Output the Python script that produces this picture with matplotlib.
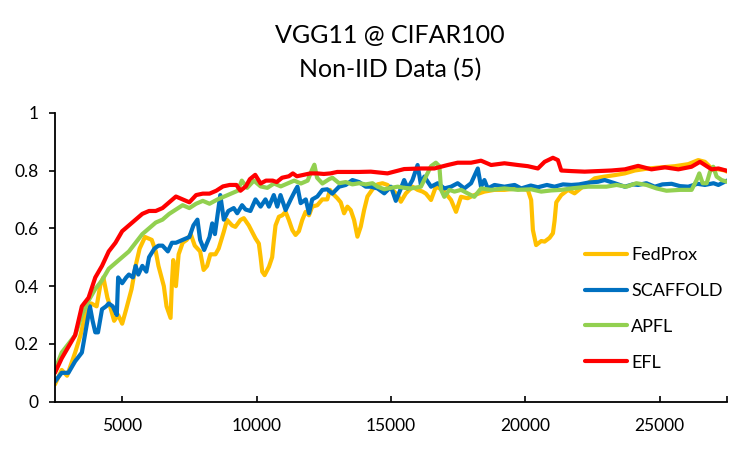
import matplotlib
matplotlib.use("Agg")
import matplotlib.pyplot as plt

plt.rcParams['font.family'] = ['Lato', 'DejaVu Sans']

title_lines = ["VGG11 @ CIFAR100", "Non-IID Data (5)"]
series_names = ["FedProx", "SCAFFOLD", "APFL", "EFL"]
series_colors = ["#FFC000", "#0070C0", "#92D050", "#FF0000"]

fedprox_x = [2500, 2750, 2950, 3100, 3250, 3450, 3600, 3850, 4050, 4200, 4300, 4450, 4550, 4700, 4850, 5000,
             5150, 5350, 5500, 5650, 5850, 6100, 6250, 6350, 6550, 6650, 6800, 6850, 6900, 7000, 7100, 7250,
             7400, 7550, 7700, 7900, 8030, 8160, 8280, 8470, 8590, 8780, 8900, 9090, 9210, 9400, 9525, 9710,
             9960, 10085, 10150, 10210, 10300, 10460, 10580, 10645, 10705, 10830, 10955, 11080, 11200, 11330,
             11450, 11575, 11700, 11825, 11950, 12070, 12260, 12445, 12630, 12730, 12820, 13006, 13130, 13255,
             13380, 13503, 13627, 13752, 13876, 14000, 14125, 14311, 14500, 14685, 14870, 15057, 15250, 15368,
             15554, 15800, 15990, 16175, 16300, 16490, 16670, 16930, 17235, 17420, 17605, 17855, 18100, 18475,
             18850, 19220, 19720, 20090, 20215, 20280, 20400, 20590, 20715, 20900, 21025, 21085, 21150, 21335,
             21585, 21830, 22080, 22330, 22580, 22950, 23325, 23700, 24070, 24565, 25065, 25565, 26060, 26430,
             26680, 26930, 27180, 27430, 27500]
fedprox_y = [0.06, 0.11, 0.09, 0.13, 0.17, 0.23, 0.29, 0.34, 0.33, 0.41, 0.43, 0.36, 0.33, 0.28, 0.30, 0.27,
             0.32, 0.39, 0.47, 0.53, 0.57, 0.56, 0.52, 0.47, 0.40, 0.33, 0.29, 0.41, 0.49, 0.40, 0.51, 0.55,
             0.56, 0.58, 0.54, 0.52, 0.456, 0.47, 0.51, 0.51, 0.53, 0.588, 0.629, 0.61, 0.605, 0.629, 0.635, 0.61,
             0.565, 0.547, 0.50, 0.45, 0.438, 0.467, 0.50, 0.56, 0.61, 0.64, 0.645, 0.657, 0.629, 0.594,
             0.577, 0.59, 0.629, 0.657, 0.645, 0.675, 0.68, 0.70, 0.70, 0.733, 0.721, 0.704, 0.69, 0.652,
             0.675, 0.663, 0.629, 0.571, 0.606, 0.663, 0.71, 0.735, 0.752, 0.756, 0.75, 0.733, 0.715, 0.692,
             0.721, 0.744, 0.733, 0.727, 0.72, 0.698, 0.744, 0.733, 0.698, 0.657, 0.709, 0.704, 0.715, 0.727,
             0.733, 0.733, 0.738, 0.733, 0.698, 0.594, 0.542, 0.556, 0.554, 0.567, 0.583, 0.625, 0.69, 0.715,
             0.733, 0.721, 0.74, 0.756, 0.773, 0.779, 0.784, 0.79, 0.80, 0.807, 0.811, 0.815, 0.822, 0.836,
             0.83, 0.807, 0.804, 0.80, 0.796]

scaffold_x = [2500, 2750, 3000, 3250, 3500, 3650, 3800, 3900, 4000, 4100, 4250, 4400, 4500, 4650, 4750, 4800,
              4850, 5000, 5150, 5250, 5400, 5500, 5600, 5750, 5900, 6000, 6200, 6350, 6500, 6700, 6850, 7000,
              7250, 7500, 7650, 7800, 7900, 8050, 8250, 8350, 8450, 8650, 8780, 8950, 9150, 9280, 9460, 9590,
              9770, 9960, 10150, 10330, 10460, 10640, 10770, 10890, 11080, 11270, 11450, 11520, 11640, 11830,
              11950, 12070, 12260, 12450, 12630, 12820, 13070, 13317, 13565, 13814, 14063, 14250, 14500, 14750,
              15000, 15180, 15370, 15490, 15620, 15800, 15990, 16115, 16240, 16490, 16740, 16985, 17235, 17480,
              17730, 17980, 18230, 18350, 18475, 18600, 18850, 19220, 19600, 19845, 20200, 20465, 20800, 21085,
              21400, 21710, 22000, 22330, 22700, 22950, 23325, 23700, 24000, 24195, 24500, 24815, 25100, 25440,
              25750, 26060, 26400, 26680, 27000, 27180, 27500]
scaffold_y = [0.07, 0.10, 0.10, 0.14, 0.17, 0.25, 0.33, 0.28, 0.24, 0.24, 0.32, 0.33, 0.34, 0.33, 0.31, 0.30,
              0.43, 0.41, 0.43, 0.44, 0.43, 0.47, 0.44, 0.47, 0.45, 0.50, 0.53, 0.54, 0.54, 0.52, 0.55, 0.55,
              0.56, 0.57, 0.61, 0.63, 0.56, 0.525, 0.57, 0.617, 0.58, 0.715, 0.63, 0.66, 0.67, 0.652, 0.68, 0.665,
              0.66, 0.70, 0.675, 0.70, 0.675, 0.715, 0.675, 0.715, 0.663, 0.70, 0.733, 0.744, 0.687, 0.70,
              0.652, 0.70, 0.71, 0.733, 0.735, 0.72, 0.744, 0.75, 0.767, 0.76, 0.744, 0.744, 0.738, 0.721,
              0.744, 0.695, 0.738, 0.767, 0.738, 0.767, 0.819, 0.75, 0.779, 0.744, 0.756, 0.738, 0.744, 0.756,
              0.738, 0.756, 0.807, 0.744, 0.767, 0.738, 0.75, 0.744, 0.75, 0.738, 0.748, 0.742, 0.75, 0.744,
              0.752, 0.75, 0.752, 0.758, 0.761, 0.767, 0.756, 0.744, 0.752, 0.75, 0.756, 0.744, 0.752, 0.754,
              0.746, 0.744, 0.754, 0.75, 0.756, 0.75, 0.765]

apfl_x = [2500, 2750, 3000, 3250, 3500, 3750, 4000, 4250, 4500, 4750, 5000, 5250, 5500, 5750, 6000, 6250,
          6500, 6750, 7000, 7250, 7500, 7750, 8000, 8250, 8550, 8800, 9050, 9300, 9450, 9650, 9900, 10150,
          10400, 10650, 10900, 11150, 11400, 11650, 11900, 12050, 12150, 12250, 12450, 12700, 12820, 13070,
          13317, 13565, 13814, 14063, 14311, 14500, 14750, 15000, 15250, 15500, 15750, 16115, 16300, 16490,
          16670, 16800, 16865, 16985, 17170, 17360, 17610, 17850, 18100, 18350, 18725, 19220, 19720, 20215,
          20590, 20960, 21335, 21710, 22330, 22640, 23015, 23390, 23760, 24130, 24510, 24880, 25250, 25750,
          26185, 26370, 26470, 26595, 26745, 26870, 26990, 27115, 27300, 27500]
apfl_y = [0.11, 0.17, 0.20, 0.23, 0.30, 0.35, 0.39, 0.42, 0.46, 0.48, 0.50, 0.52, 0.55, 0.58, 0.60, 0.62,
          0.63, 0.65, 0.665, 0.68, 0.67, 0.685, 0.695, 0.685, 0.70, 0.71, 0.72, 0.73, 0.765, 0.74, 0.765, 0.745,
          0.74, 0.755, 0.745, 0.755, 0.765, 0.755, 0.765, 0.80, 0.82, 0.775, 0.755, 0.77, 0.775, 0.756,
          0.76, 0.752, 0.756, 0.752, 0.756, 0.744, 0.735, 0.74, 0.744, 0.74, 0.738, 0.744, 0.779, 0.815,
          0.827, 0.815, 0.733, 0.709, 0.733, 0.727, 0.733, 0.721, 0.709, 0.738, 0.733, 0.738, 0.733, 0.735,
          0.727, 0.731, 0.733, 0.738, 0.744, 0.744, 0.744, 0.75, 0.744, 0.756, 0.75, 0.738, 0.73, 0.733,
          0.733, 0.767, 0.79, 0.756, 0.756, 0.796, 0.813, 0.779, 0.767, 0.761]

efl_x = [2500, 2750, 3000, 3250, 3500, 3750, 4000, 4250, 4500, 4750, 5000, 5250, 5500, 5750, 6000, 6250,
         6500, 6750, 7000, 7250, 7500, 7750, 8000, 8250, 8500, 8750, 9000, 9250, 9400, 9600, 9750, 9950,
         10150, 10350, 10600, 10750, 10950, 11200, 11350, 11500, 11750, 12000, 12250, 12500, 12750, 13000,
         13300, 13800, 14250, 14870, 15490, 16115, 16610, 17110, 17480, 17980, 18350, 18725, 19220, 19720,
         20090, 20465, 20715, 21025, 21210, 21335, 21710, 22205, 22700, 23200, 23700, 24195, 24690, 25190,
         25690, 26180, 26495, 26680, 26930, 27180, 27500]
efl_y = [0.10, 0.15, 0.19, 0.23, 0.33, 0.36, 0.43, 0.47, 0.52, 0.55, 0.59, 0.61, 0.63, 0.65, 0.66, 0.66,
         0.67, 0.69, 0.71, 0.70, 0.69, 0.715, 0.72, 0.72, 0.73, 0.745, 0.75, 0.75, 0.73, 0.745, 0.77, 0.785,
         0.755, 0.765, 0.765, 0.76, 0.775, 0.78, 0.79, 0.78, 0.785, 0.79, 0.79, 0.788, 0.79, 0.795,
         0.795, 0.795, 0.796, 0.79, 0.805, 0.807, 0.807, 0.819, 0.827, 0.827, 0.834, 0.819, 0.825, 0.819,
         0.815, 0.807, 0.83, 0.844, 0.836, 0.80, 0.798, 0.796, 0.798, 0.80, 0.804, 0.816, 0.804, 0.811,
         0.804, 0.813, 0.83, 0.819, 0.804, 0.807, 0.799]

x_ticks = [5000, 10000, 15000, 20000, 25000, 27500]
x_tick_labels = ["5000", "10000", "15000", "20000", "25000", ""]
y_ticks = [0, 0.2, 0.4, 0.6, 0.8, 1]
y_tick_labels = ["0", "0.2", "0.4", "0.6", "0.8", "1"]

fig = plt.figure(figsize=(7.5, 4.49), dpi=100)
ax = fig.add_axes([0.0733, 0.1053, 0.8960, 0.6437])

all_x = [fedprox_x, scaffold_x, apfl_x, efl_x]
all_y = [fedprox_y, scaffold_y, apfl_y, efl_y]
for xs, ys, name, col in zip(all_x, all_y, series_names, series_colors):
    ax.plot(xs, ys, color=col, lw=3.0, label=name, solid_joinstyle='round', solid_capstyle='round')

ax.set_xlim(2500, 27500)
ax.set_ylim(0, 1)
ax.set_xticks(x_ticks)
ax.set_xticklabels(x_tick_labels)
ax.set_yticks(y_ticks)
ax.set_yticklabels(y_tick_labels)
ax.tick_params(axis='x', direction='in', length=4, width=1.2, labelsize=12.5, pad=12, colors='black')
ax.tick_params(axis='y', direction='out', length=4, width=1.2, labelsize=12.5, pad=8, colors='black')
for s in ['top', 'right']:
    ax.spines[s].set_visible(False)
for s in ['left', 'bottom']:
    ax.spines[s].set_linewidth(1.3)
    ax.spines[s].set_color('black')

fig.text(0.52, 0.883, "\n".join(title_lines), ha='center', va='center', fontsize=18, linespacing=1.55)

leg = ax.legend(loc='upper left', bbox_to_anchor=(0.778, 0.56), frameon=False, fontsize=13,
                handlelength=2.3, handletextpad=0.25, labelspacing=1.1, borderaxespad=0)

fig.savefig("out.png", dpi=100)
